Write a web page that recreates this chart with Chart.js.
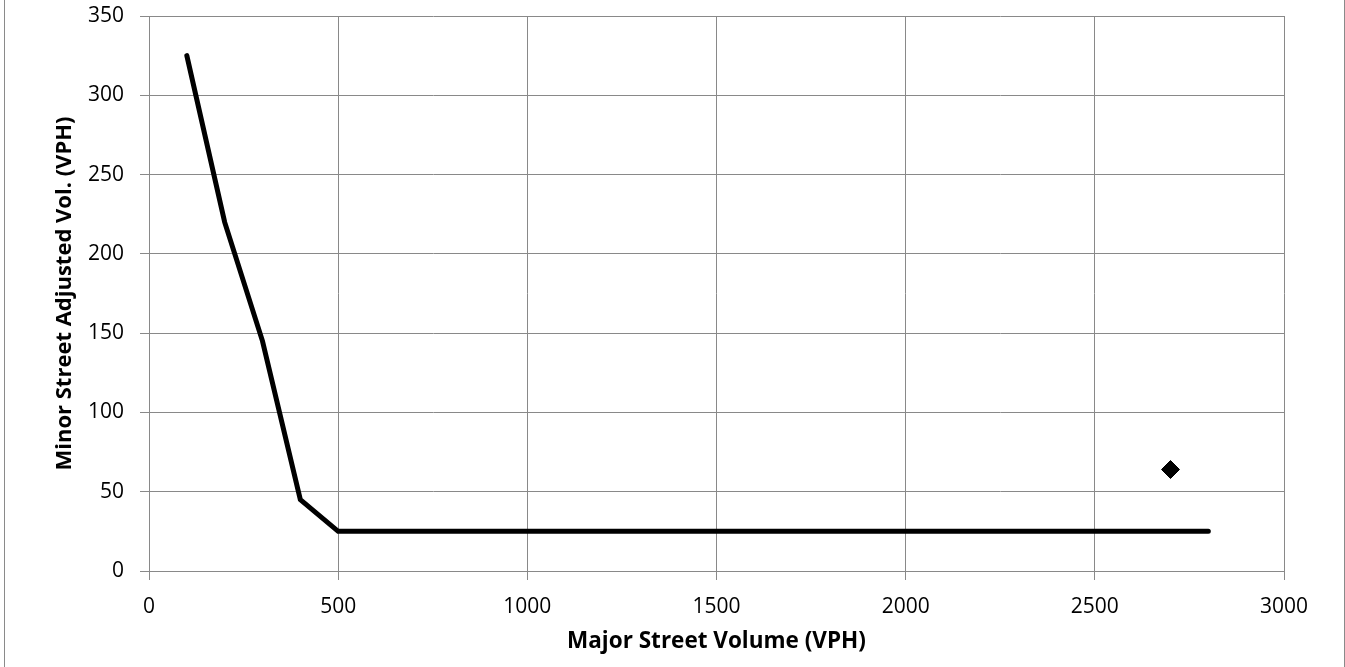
<!DOCTYPE html>
<html>
<head>
<meta charset="utf-8">
<script src="https://cdn.jsdelivr.net/npm/chart.js@4.4.1/dist/chart.umd.min.js"></script>
<style>
  html, body { margin: 0; padding: 0; background: #fff; }
  #wrap { position: relative; width: 1345px; height: 667px; }
  #frame { position: absolute; left: 4px; top: 0; width: 1339px; height: 667px;
           border-left: 1px solid #8a8a8a; border-right: 1px solid #8a8a8a; pointer-events: none; }
</style>
</head>
<body>
<div id="wrap">
  <canvas id="chart" width="1345" height="667"></canvas>
  <div id="frame"></div>
</div>
<script>
// warrant curve (major street vph vs minor street vph)
var majorVol = [100, 200, 300, 400, 500, 2800];
var minorVol = [325, 220, 145, 45, 25, 25];

// observed count
var countMajor = [2700];
var countMinor = [64];

var xTicks = [0, 500, 1000, 1500, 2000, 2500, 3000];
var yTicks = [0, 50, 100, 150, 200, 250, 300, 350];

var curve = majorVol.map(function (v, i) { return { x: v, y: minorVol[i] }; });
var counts = countMajor.map(function (v, i) { return { x: v, y: countMinor[i] }; });

var fontFam = "'Open Sans', 'Liberation Sans', sans-serif";
var gridCol = "#898989";

var ctx = document.getElementById("chart");
var myChart = new Chart(ctx, {
  type: "scatter",
  data: {
    datasets: [
      {
        label: "Warrant",
        data: curve,
        showLine: true,
        borderColor: "#000",
        borderWidth: 5,
        borderCapStyle: "round",
        pointRadius: 0,
        pointHoverRadius: 0,
        fill: false,
        tension: 0
      },
      {
        label: "Count",
        data: counts,
        pointStyle: "rectRot",
        pointRadius: 9,
        backgroundColor: "#000",
        borderColor: "#000",
        borderWidth: 1,
        showLine: false
      }
    ]
  },
  options: {
    responsive: false,
    animation: false,
    events: [],
    layout: { padding: { left: 0, right: 61, top: 16, bottom: 0 } },
    plugins: { legend: { display: false }, tooltip: { enabled: false } },
    scales: {
      x: {
        type: "linear",
        min: 0,
        max: 3000,
        afterBuildTicks: function (scale) {
          scale.ticks = xTicks.map(function (v) { return { value: v }; });
        },
        afterFit: function (scale) { scale.height = 96; scale.paddingLeft = 0; scale.paddingRight = 0; },
        grid: { color: gridCol, lineWidth: 1, tickLength: 9, drawTicks: true },
        border: { color: gridCol, width: 1 },
        ticks: {
          color: "#000", padding: 14, maxRotation: 0, font: { family: fontFam, size: 21 },
          callback: function (v) { return String(v); }
        },
        title: {
          display: true,
          text: "Major Street Volume (VPH)",
          color: "#000",
          padding: { top: 0, bottom: 12 },
          font: { family: fontFam, size: 22.5, weight: "bold" }
        }
      },
      y: {
        type: "linear",
        min: 0,
        max: 350,
        afterBuildTicks: function (scale) {
          scale.ticks = yTicks.map(function (v) { return { value: v }; });
        },
        afterFit: function (scale) { scale.width = 149; scale.paddingTop = 0; scale.paddingBottom = 0; },
        grid: { color: gridCol, lineWidth: 1, tickLength: 9, drawTicks: true },
        border: { color: gridCol, width: 1 },
        ticks: {
          color: "#000", padding: 16, font: { family: fontFam, size: 21 },
          callback: function (v) { return String(v); }
        },
        title: {
          display: true,
          text: "Minor Street Adjusted Vol. (VPH)",
          color: "#000",
          padding: { top: 52, bottom: 0 },
          font: { family: fontFam, size: 22, weight: "bold" }
        }
      }
    }
  }
});
</script>
</body>
</html>
